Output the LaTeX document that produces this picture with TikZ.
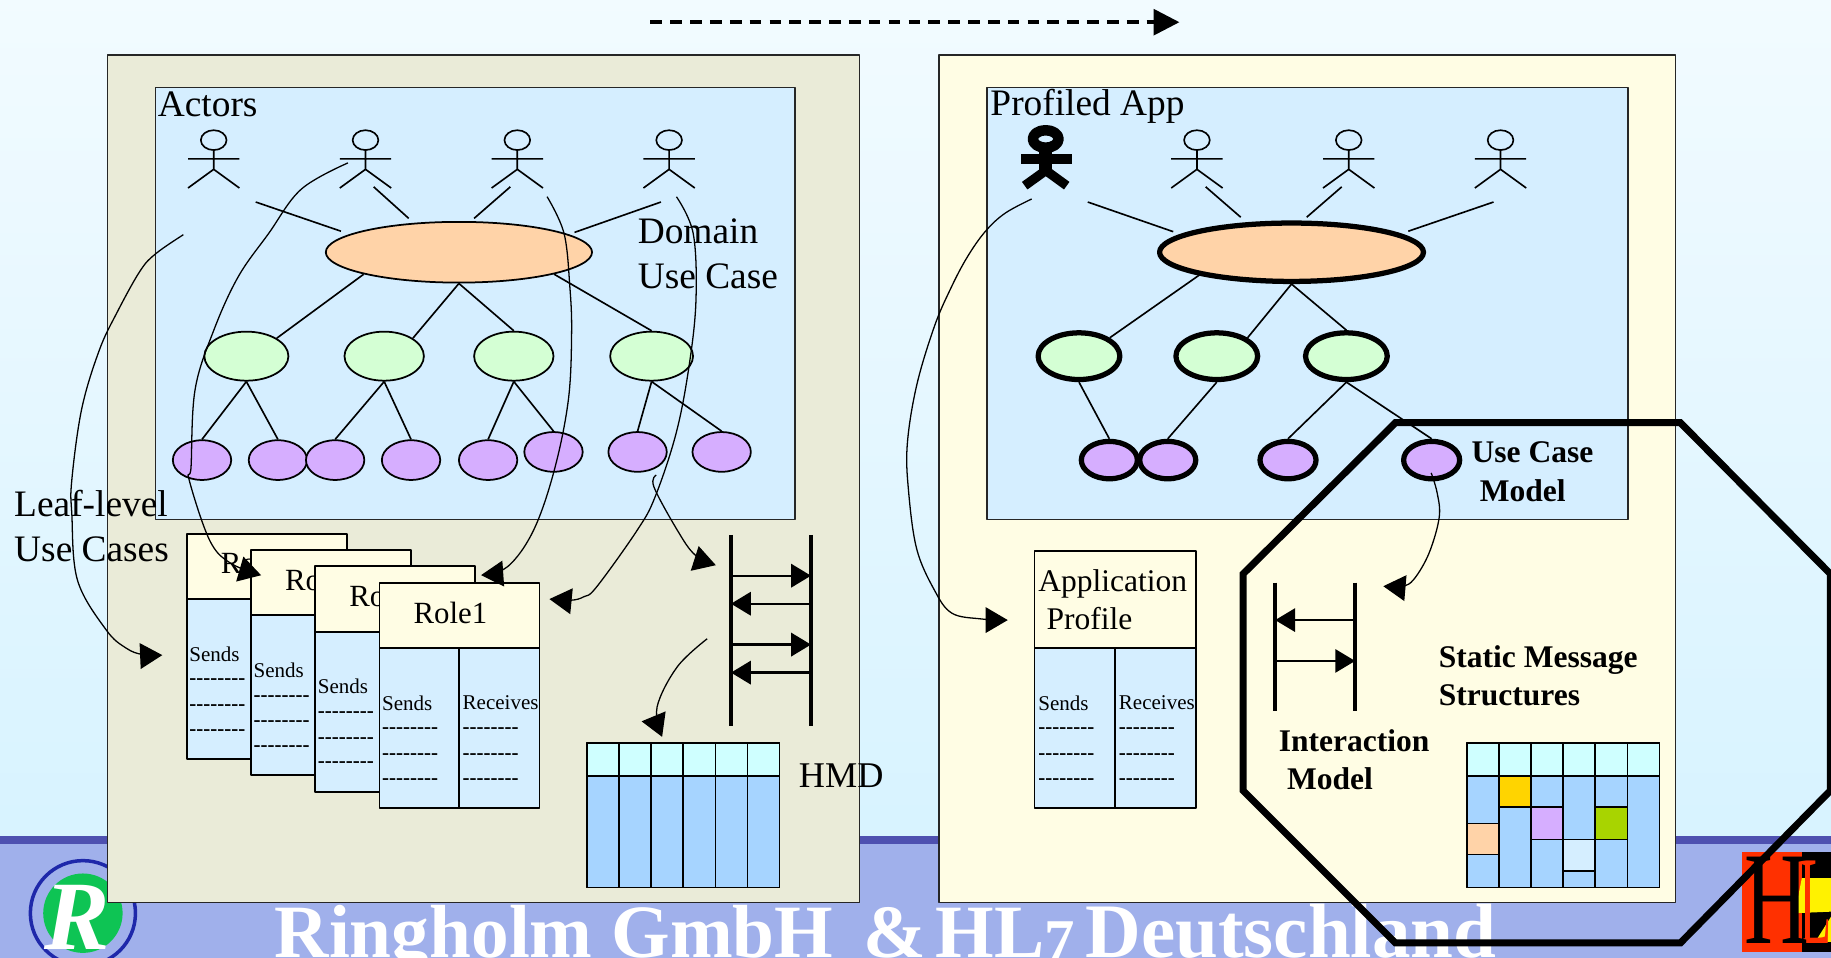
\documentclass[tikz,border=0pt]{standalone}
\usepackage{fontspec}
\setmainfont{Liberation Serif}
\newfontfamily\dashfont{Liberation Serif}
\usetikzlibrary{arrows.meta,shapes.geometric}
\definecolor{paneL}{HTML}{EAEBD8}
\definecolor{paneR}{HTML}{FFFDE4}
\definecolor{skyb}{HTML}{D5EEFF}
\definecolor{peach}{HTML}{FFD3A8}
\definecolor{mint}{HTML}{D4FFD4}
\definecolor{lilac}{HTML}{D6AEFF}
\definecolor{cyanh}{HTML}{CFFFFF}
\definecolor{blueb}{HTML}{A6D4FF}
\definecolor{band}{HTML}{4E50B0}
\definecolor{foot}{HTML}{A0B0EB}
\definecolor{redl}{HTML}{FF3000}
\definecolor{ringb}{HTML}{1E28AA}
\definecolor{greenr}{HTML}{0EC454}
\definecolor{goldc}{HTML}{FFD400}
\definecolor{limec}{HTML}{A8D400}
\tikzset{
	pane/.style={draw=black!85,line width=1.3pt},
	lab/.style={anchor=west,inner sep=0pt,font=\fontsize{32}{32}\selectfont},
	plab/.style={anchor=west,inner sep=0pt,font=\fontsize{27}{27}\selectfont},
	blab/.style={anchor=west,inner sep=0pt,font=\fontsize{27}{27}\selectfont\bfseries},
	smalltxt/.style={anchor=west,inner sep=0pt,font=\fontsize{18}{18}\selectfont},
	dashtxt/.style={anchor=west,inner sep=0pt,font=\fontsize{18}{18}\dashfont\bfseries},
	uc/.style={ellipse,draw,inner sep=0pt,line width=1.5pt},
	ucb/.style={uc,line width=4.5pt},
	msg/.style={-{Triangle[length=17pt,width=20pt]},line width=2pt},
	life/.style={line width=3.6pt},
	free/.style={line width=1.1pt,-{Triangle[length=19pt,width=22pt]}},
	link/.style={line width=1.4pt}
}
\begin{document}
\begin{tikzpicture}[x=1pt,y=-1pt,line join=round]
	\useasboundingbox (0,0) rectangle (1568,820);
	\begin{scope}
	\clip (0,0) rectangle (1568,820);
	%background
	\shade[top color=white,bottom color=skyb!95!cyan] (0,-358) rectangle (1568,1074);
	\fill[band] (0,716) rectangle (1568,723);
	\fill[foot] (0,723) rectangle (1568,820);
	%logo R
	\draw[draw=ringb,line width=3pt] (71,782) circle (45);
	\fill[greenr] (71,782) circle (34);
	\node (logoR) at (66,786) [inner sep=0pt,text=white,font=\fontsize{84}{84}\selectfont\bfseries\itshape]{R};
	%footer text
	\node (footer) at (235,820) [anchor=base west,inner sep=0pt,text=white,font=\fontsize{64.5}{65}\selectfont\bfseries]{Ringholm GmbH\hspace{26pt}\&\hspace{8pt}HL{\fontsize{52}{52}\selectfont\raisebox{-3pt}{7}}\hspace{9pt}{\fontsize{66}{66}\selectfont Deutschland}};
	%logo HL7
	\fill[redl] (1491.6,729.4) rectangle (1543,815);
	\fill[black] (1543,729.4) rectangle (1568,815);
	\fill[yellow] (1543,752) -- (1568,752) -- (1568,780.7) -- (1537,782) -- cycle;
	\fill[yellow] (1568,785) -- (1568,806.5) -- (1554.5,806.5) -- cycle;
	\node (logoL) at (1541,808) [anchor=base west,inner sep=0pt,text=redl,font=\fontsize{108}{108}\selectfont]{\scalebox{.42}[1]{L}};
	\node (logoH) at (1494,808) [anchor=base west,inner sep=0pt,font=\fontsize{113}{113}\selectfont]{\scalebox{.68}[1]{H}};
	%top arrow
	\coordinate (topS) at (557,19);
	\coordinate (topE) at (1010,19);
	\draw[line width=3pt,dash pattern=on 10pt off 7pt,-{Triangle[length=22pt,width=22pt]}] (topS)--(topE);
	%panes
	\filldraw[pane,fill=paneL] (92,47) rectangle (736,773);
	\filldraw[pane,fill=paneR] (804,47) rectangle (1435,773);
	\filldraw[pane,fill=skyb] (133,75) rectangle (681,445);
	\filldraw[pane,fill=skyb] (845,75) rectangle (1394,445);
	\node (actors) at (135,89) [lab]{Actors};
	\node (profiled) at (848,91) [lab]{Profiled App};
	\node (domain) at (546,198) [lab]{Domain};
	\node (domainb) at (546,237) [lab]{Use Case};
	\node (leafa) at (12,431) [lab]{Leaf-level};
	\node (leafb) at (12,470) [lab]{Use Cases};
	\node (hmd) at (684,664) [lab,font=\fontsize{31}{31}\selectfont]{HMD};
	%actors
	\foreach \t in {183,313,443,573,1025,1155,1285}{
	\draw[link] (\t,120) ellipse (11 and 8.5);
	\draw[link] (\t,128.5)--(\t,145) (\t-22,136)--(\t+22,136)
		(\t-22,161)--(\t,145)--(\t+22,161);}
	%thick actor
	\draw[line width=9pt] (895.5,119) ellipse (11 and 7.5);
	\fill (874.4,131.6) rectangle (917.8,140.7);
	\fill (890,127) rectangle (901,147);
	\draw[line width=8pt,line cap=butt,line join=miter] (877.5,159)--(895.6,146)--(913.5,159);
	%left tree
	\node (ucL) at (393,216) [uc,fill=peach,minimum width=228pt,minimum height=52pt]{};
	\foreach \n/\x/\w in {a/211/72,b/329/68,c/440/68,d/558/71}{
	\node (m\n) at (\x,305) [uc,fill=mint,minimum width=\w pt,minimum height=42pt]{};}
	\foreach \n/\x/\y in {a/173/394,b/238/394,c/287/394,d/352/394,e/418/394,f/474/387,g/546/387,h/618/387}{
	\node (l\n) at (\x,\y) [uc,fill=lilac,minimum width=50pt,minimum height=34pt]{};}
	\foreach \k/\a/\b/\c/\d in {1/219/173/292/198,2/320/160/350/187,3/437/160/406/187,4/566/173/492/199,
		5/931.5/173/1004.7/198.4,6/1032.5/160/1062.5/186,7/1149/160/1119/186,8/1279/173/1206/198}{
	\coordinate (as\k) at (\a,\b);
	\coordinate (ae\k) at (\c,\d);
	\draw[link] (as\k)--(ae\k);}
	\draw[link] (ucL.193)--(ma.north east) (ucL.south)--(mb.north east) (ucL.south)--(mc.north) (ucL.347)--(md.north);
	\draw[link] (ma.south)--(la.north) (ma.south)--(lb.north) (mb.south)--(lc.north) (mb.south)--(ld.north)
		(mc.south)--(le.north) (mc.south)--(lf.north) (md.south)--(lg.north) (md.south)--(lh.north);
	%right tree
	\node (ucR) at (1106,216) [ucb,fill=peach,minimum width=226pt,minimum height=50pt]{};
	\foreach \n/\x in {a/924,b/1042,c/1153}{
	\node (n\n) at (\x,305) [ucb,fill=mint,minimum width=70pt,minimum height=40pt]{};}
	\foreach \n/\x in {a/950,b/1000,c/1103,d/1226}{
	\node (k\n) at (\x,394) [ucb,fill=lilac,minimum width=48pt,minimum height=32pt]{};}
	\draw[link] (ucR.194)--(na.north east) (ucR.south)--(nb.north east) (ucR.south)--(nc.north);
	\draw[link] (na.south)--(ka.north) (nb.south)--(kb.north) (nc.south)--(kc.north) (nc.south)--(kd.north);
	%role cards
	\foreach \i/\t/\m in {3/Ro/0,2/Ro/0,1/Ro/0,0/Role1/1}{
	\begin{scope}[shift={(55*\i*-1,14*\i*-1)}]
	\filldraw[line width=1.6pt,fill=paneR] (325,499) rectangle (462,555);
	\filldraw[line width=1.6pt,fill=skyb] (325,555) rectangle (462,692);
	\node (role\i) at (354,525) [anchor=west,inner sep=0pt,font=\fontsize{26.4}{26}\selectfont]{\t};
	\node (sends\i) at (327,602) [smalltxt]{Sends};
	\foreach \y in {626,648,669}{\node (dash\i\y) at (327,\y) [dashtxt]{--------};}
	\ifnum\m=1
	\draw[line width=1.2pt] (393,555)--(393,692);
	\node (rec\i) at (396,602) [smalltxt]{Receives};
	\foreach \y in {626,648,669}{\node (rdash\i\y) at (396,\y) [dashtxt]{--------};}
	\fi
	\end{scope}}
	%application profile
	\filldraw[line width=1.4pt,fill=paneR] (886,472) rectangle (1024,555);
	\filldraw[line width=1.4pt,fill=skyb] (886,555) rectangle (1024,692);
	\draw[line width=1.2pt] (955,555)--(955,692);
	\node (appa) at (889,500) [plab]{Application};
	\node (appb) at (896,530) [plab]{Profile};
	\node (appsend) at (889,602) [smalltxt]{Sends};
	\node (apprec) at (958,602) [smalltxt]{Receives};
	\foreach \y in {626,648,669}{\node (appd\y) at (889,\y) [dashtxt]{--------};\node (appe\y) at (958,\y) [dashtxt]{--------};}
	%sequence left
	\coordinate (lA) at (626,458);\coordinate (lB) at (694.5,458);
	\coordinate (lC) at (626,622);\coordinate (lD) at (694.5,622);
	\draw[life] (lA)--(lC) (lB)--(lD);
	\foreach \y/\s/\e in {493/lA/lB,517/lB/lA,552/lA/lB,576/lB/lA}{
	\draw[msg] (\s|-0,\y)--(\e|-0,\y);}
	%sequence right
	\coordinate (rA) at (1092,499);\coordinate (rB) at (1160.5,499);
	\coordinate (rC) at (1092,609);\coordinate (rD) at (1160.5,609);
	\draw[life] (rA)--(rC) (rB)--(rD);
	\foreach \y/\s/\e in {531/rB/rA,566/rA/rB}{
	\draw[msg,line width=1.5pt] (\s|-0,\y)--(\e|-0,\y);}
	%tables
	\foreach \x in {502.5,1256}{
	\filldraw[line width=1.4pt,fill=cyanh] (\x,636.5) rectangle (\x+165,664.5);
	\filldraw[line width=1.4pt,fill=blueb] (\x,664.5) rectangle (\x+165,760);}
	\fill[goldc] (1283.5,664.5) rectangle (1311,691);
	\fill[lilac] (1311,691) rectangle (1338.5,718.7);
	\fill[limec] (1366,691) rectangle (1393.5,718.7);
	\fill[peach] (1256,705) rectangle (1283.5,732);
	\fill[skyb] (1338.5,718.7) rectangle (1366,746);
	\draw[line width=1.2pt] (1283.5,691)--(1311,691) (1311,718.7)--(1338.5,718.7) (1311,691)--(1338.5,691)
		(1366,691)--(1393.5,691) (1366,718.7)--(1393.5,718.7) (1256,705)--(1283.5,705) (1256,732)--(1283.5,732)
		(1338.5,718.7)--(1366,718.7) (1338.5,746)--(1366,746);
	\foreach \k in {1,...,5}{
	\draw[line width=1.2pt] (502.5+27.5*\k,636.5)--(502.5+27.5*\k,760);
	\draw[line width=1.2pt] (1256+27.5*\k,636.5)--(1256+27.5*\k,760);}
	\draw[line width=1.4pt] (502.5,664.5)--(667.5,664.5) (1256,664.5)--(1421,664.5);
	\draw[line width=1.4pt] (502.5,636.5) rectangle (667.5,760) (1256,636.5) rectangle (1421,760);
	%bold labels
	\node (ucma) at (1260,387) [blab]{Use Case};
	\node (ucmb) at (1267,420) [blab]{Model};
	\node (sma) at (1232,565) [blab]{Static Message};
	\node (smb) at (1232,595) [blab]{Structures};
	\node (ima) at (1095,634) [blab]{Interaction};
	\node (imb) at (1102,667) [blab]{Model};
	%freehand arrows
	\coordinate (f1s) at (157,201);\coordinate (f1e) at (139,561);
	\draw[free] plot[smooth,tension=.6] coordinates {(f1s) (133.7,217) (120,232) (100,268) (85,300) (70,350) (61.5,411) (61.5,440) (66.4,497) (91,539.5) (108,555) (122,560.5) (f1e)};
	\coordinate (f2s) at (298,139.5);\coordinate (f2e) at (223.6,492.6);
	\draw[free] plot[smooth,tension=.6] coordinates {(f2s) (258,162) (230,200) (204,237) (183,283) (167,334) (163.6,400) (162,411) (179.4,462.4) (197,482) (f2e)};
	\coordinate (f3s) at (468.5,168.4);\coordinate (f3e) at (412,492.5);
	\draw[free] plot[smooth,tension=.6] coordinates {(f3s) (483,199.8) (488,245.7) (489.5,285.6) (486.7,342.6) (474.7,402.5) (457,453.9) (435,485) (f3e)};
	\coordinate (f4s) at (579.3,168.5);\coordinate (f4e) at (470.5,513);
	\draw[free] plot[smooth,tension=.6] coordinates {(f4s) (593.6,199.8) (596,257) (590,314) (579,371) (561,425.5) (545.7,454) (511,502.5) (500,511) (489,514) (f4e)};
	\coordinate (f5s) at (562,406.8);\coordinate (f5e) at (613,484);
	\draw[free] plot[smooth,tension=.6] coordinates {(f5s) (560,417) (580,454) (595,475) (f5e)};
	\coordinate (f6s) at (605.6,547);\coordinate (f6e) at (567,631);
	\draw[free] plot[smooth,tension=.6] coordinates {(f6s) (580,571) (562.7,605.4) (f6e)};
	\coordinate (f7s) at (883.5,170.4);\coordinate (f7e) at (863,531);
	\draw[free] plot[smooth,tension=.6] coordinates {(f7s) (860.7,182.6) (843.6,198.4) (827.8,221) (813.5,248.4) (800,280) (785,330) (777,380) (778,420) (785,470) (800,505) (815,525) (840,530) (f7e)};
	\coordinate (f8s) at (1225.6,405);\coordinate (f8e) at (1184.6,502);
	\draw[free] plot[smooth,tension=.6] coordinates {(f8s) (1230.6,421.6) (1232.5,442.9) (1223.8,473.6) (1211,495.8) (1201,502) (f8e)};
	%octagon
	\draw[line width=6pt,line join=miter] (1195,362)--(1439,362)--(1567.5,491.5)--(1567.5,677)--(1439,807.5)--(1195,807.5)--(1064.5,677)--(1064.5,491.5)--cycle;
	\end{scope}
\end{tikzpicture}
\end{document}
